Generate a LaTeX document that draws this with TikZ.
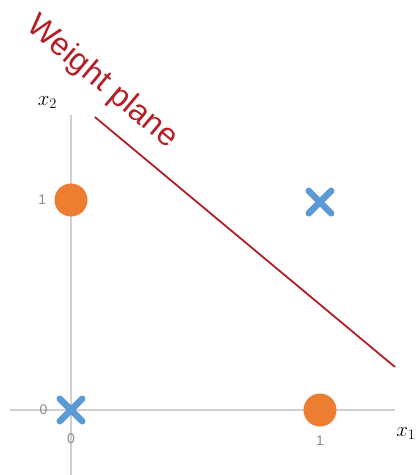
\documentclass[tikz,border=0pt]{standalone}
\usepackage{fontspec}
\setsansfont{Liberation Sans}
\usetikzlibrary{shapes.misc}
\definecolor{cO}{HTML}{ED7D31}
\definecolor{cB}{HTML}{5B9BD5}
\definecolor{cR}{HTML}{B51E24}
\definecolor{cG}{HTML}{D0D0D0}
\definecolor{cT}{HTML}{8C8C8C}
\begin{document}
\begin{tikzpicture}[
  x=249pt, y=210pt,
  ax/.style={cG,line width=2.8pt},
  dot/.style={circle,fill=cO,minimum size=33pt,inner sep=0pt},
  xx/.style={cross out,draw=cB,line width=6.5pt,minimum size=16pt,inner sep=0pt,line cap=round},
  tk/.style={cT,font=\sffamily\fontsize{14}{16}\selectfont},
  lb/.style={font=\fontsize{20}{22}\selectfont}]
\useasboundingbox (-0.2851,-0.3095) rectangle (1.4016,1.9524);
% axes
\coordinate (xl) at (-0.245,0);
\coordinate (xr) at (1.301,0);
\coordinate (yb) at (0,-0.31);
\coordinate (yt) at (0,1.405);
\draw[ax] (xl) -- (xr);
\draw[ax] (yb) -- (yt);
\node[lb] (lx1) at (1.345,-0.11) {$x_1$};
\node[lb] (lx2) at (-0.095,1.465) {$x_2$};
% ticks
\node[tk] (ty0) at (-0.11,0) {0};
\node[tk] (ty1) at (-0.115,1) {1};
\node[tk] (tx0) at (0,-0.135) {0};
\node[tk] (tx1) at (1,-0.145) {1};
% the four inputs
\node[xx] (p00) at (0,0) {};
\node[dot] (p10) at (1,0) {};
\node[dot] (p01) at (0,1) {};
\node[xx] (p11) at (1,0.99) {};
% separating line
\coordinate (wa) at (0.096,1.395);
\coordinate (wb) at (1.301,0.205);
\draw[cR,line width=1.8pt] (wa) -- (wb);
\node[cR,rotate=-40,font=\sffamily\fontsize{32}{36}\selectfont] (wp) at (0.124,1.56) {Weight plane};
\end{tikzpicture}
\end{document}
